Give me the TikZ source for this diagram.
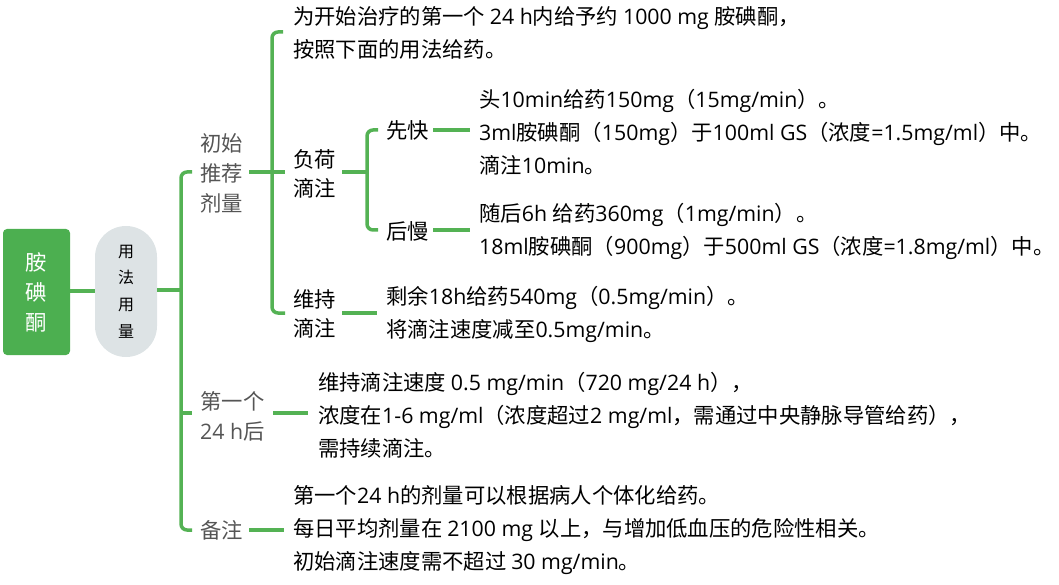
\documentclass[tikz,border=0pt]{standalone}
\usepackage{fontspec}
\setmainfont{Open Sans}
\newfontfamily\cjkf{Noto Sans CJK SC}
\XeTeXinterchartokenstate=1
\newXeTeXintercharclass\cjkcls
\newcount\cc
\def\setcls#1#2{\cc=#1\relax\loop\XeTeXcharclass\cc=\cjkcls\ifnum\cc<#2\advance\cc by 1\repeat}
\setcls{"3000}{"303F}
\setcls{"4E00}{"9FFF}
\setcls{"FF00}{"FFEF}
\XeTeXinterchartoks 0 \cjkcls = {\cjkf}
\XeTeXinterchartoks 4095 \cjkcls = {\cjkf}
\XeTeXinterchartoks \cjkcls 0 = {\rmfamily}
\XeTeXinterchartoks 4095 0 = {\rmfamily}
\definecolor{brgreen}{RGB}{84,178,84}
\definecolor{rootgreen}{RGB}{76,175,80}
\definecolor{pillgray}{RGB}{221,227,229}
\definecolor{labgray}{RGB}{85,85,85}
\begin{document}
\begin{tikzpicture}[x=1pt,y=-1pt,
  conn/.style={draw=brgreen,line width=3.5pt},
  brk/.style={conn,rounded corners=6pt},
  txt/.style={anchor=west,inner sep=0pt,align=left,font=\fontsize{21.33}{33}\selectfont},
  lab/.style={anchor=west,inner sep=0pt,align=center,font=\fontsize{21.33}{30}\selectfont,text=labgray},
  sub/.style={anchor=west,inner sep=0pt,align=left,font=\fontsize{21.33}{29}\selectfont}]
\useasboundingbox (0,0) rectangle (1059,585);

% root and level 1
\node[rectangle,rounded corners=4pt,fill=rootgreen,minimum width=67pt,minimum height=126pt,
  inner sep=0pt,align=center,text=white,font=\fontsize{21.33}{30}\selectfont] (root) at (36.5,292) {胺\\碘\\酮};
\node[rectangle,rounded corners=31pt,fill=pillgray,minimum width=62pt,minimum height=131pt,
  inner sep=0pt,align=center,font=\fontsize{16}{26.7}\selectfont] (pill) at (126,291.5) {用\\法\\用\\量};
\draw[conn] (root.east |- 0,291) -- (pill.west |- 0,291);
\coordinate (j1) at (181,290);
\draw[conn] (pill.east |- j1) -- (j1);

% level 2 labels
\node[lab] (l1) at (200,173) {初始\\推荐\\剂量};
\node[lab] (l2) at (200,416) {第一个\\24 h后};
\node[lab] (l3) at (200,530) {备注};

\coordinate (b1t) at (192,172);
\coordinate (b1m) at (192,413);
\coordinate (b1b) at (192,530);
\draw[brk] (b1t) -- (j1 |- b1t) -- (j1 |- b1b) -- (b1b);
\draw[conn] (j1 |- b1m) -- (b1m);

% branch 1
\coordinate (j2) at (272,172);
\draw[conn] (249,172) -- (285,172);
\coordinate (b2t) at (283,32);
\coordinate (b2b) at (285,313);
\draw[brk] (b2t) -- (j2 |- b2t) -- (j2 |- b2b) -- (b2b);

\node[txt] (t1) at (293,33) {为开始治疗的第一个 24 h内给予约 1000 mg 胺碘酮，\\按照下面的用法给药。};
\node[sub] (n1) at (293,174) {负荷\\滴注};
\node[sub] (n2) at (293,314) {维持\\滴注};

% 负荷滴注
\coordinate (j3) at (367,172);
\draw[conn] (342,172) -- (j3);
\coordinate (b3t) at (378,130);
\coordinate (b3b) at (378,230);
\draw[brk] (b3t) -- (j3 |- b3t) -- (j3 |- b3b) -- (b3b);
\node[sub] (k1) at (386,130) {先快};
\node[sub] (k2) at (386,231) {后慢};
\node[txt] (ta) at (479,132) {头10min给药150mg（15mg/min）。\\3ml胺碘酮（150mg）于100ml GS（浓度=1.5mg/ml）中。\\滴注10min。};
\node[txt] (tb) at (479,231.5) {随后6h 给药360mg（1mg/min）。\\18ml胺碘酮（900mg）于500ml GS（浓度=1.8mg/ml）中。};
\draw[conn] (433,130) -- (470,130);
\draw[conn] (433,230) -- (470,230);

% 维持滴注
\node[txt] (tc) at (386,314.5) {剩余18h给药540mg（0.5mg/min）。\\将滴注速度减至0.5mg/min。};
\draw[conn] (342,313) -- (377,313);

% 第一个24 h后
\node[txt] (td) at (318,415) {维持滴注速度 0.5 mg/min（720 mg/24 h），\\浓度在1-6 mg/ml（浓度超过2 mg/ml，需通过中央静脉导管给药），\\需持续滴注。};
\draw[conn] (273,413) -- (308,413);

% 备注
\node[txt] (te) at (293,530) {第一个24 h的剂量可以根据病人个体化给药。\\每日平均剂量在 2100 mg 以上，与增加低血压的危险性相关。\\初始滴注速度需不超过 30 mg/min。};
\draw[conn] (249,530) -- (284,530);
\end{tikzpicture}
\end{document}
